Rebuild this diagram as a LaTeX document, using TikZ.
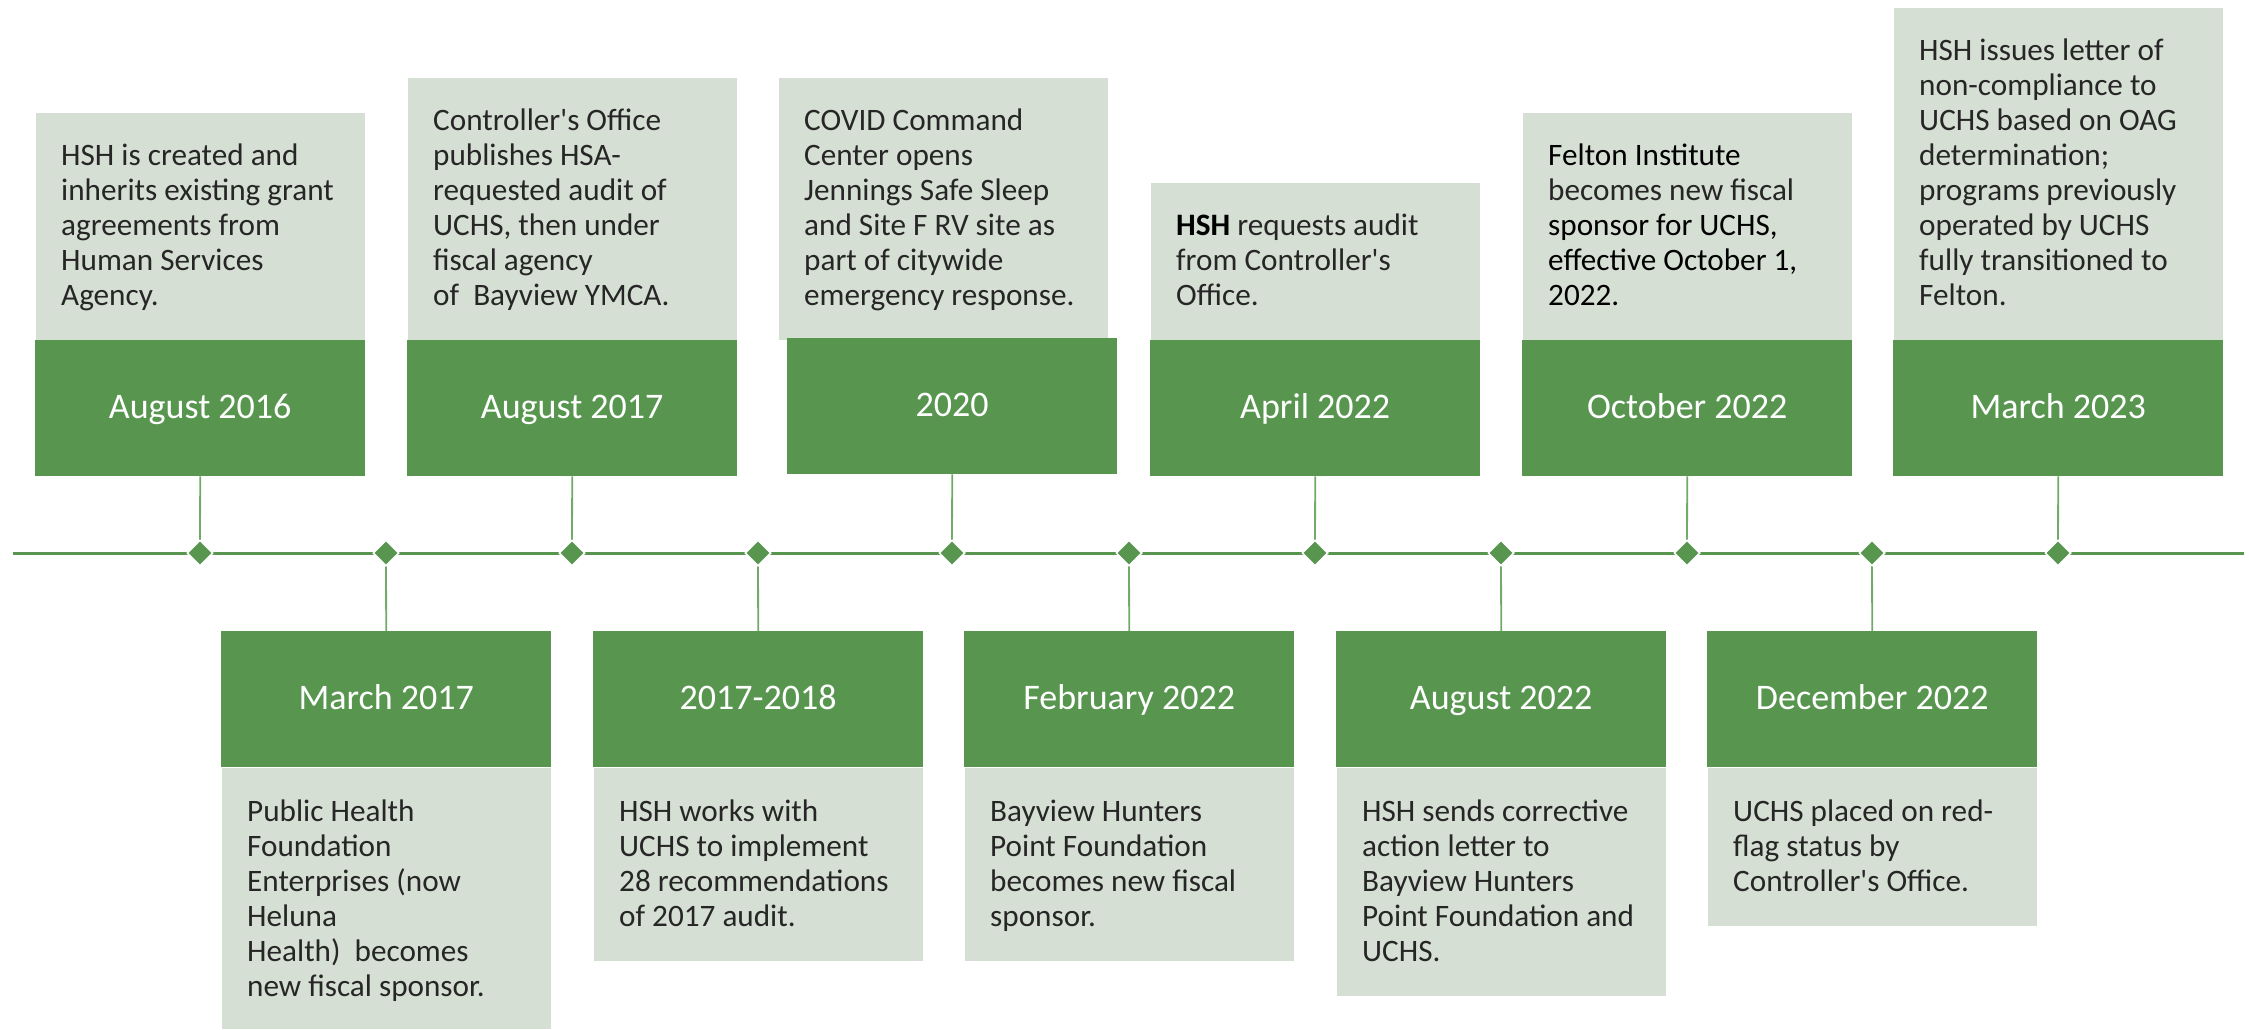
\documentclass[tikz,border=0pt]{standalone}
\usepackage{fontspec}
\setmainfont{Carlito}[Ligatures=TeXOff]
\usetikzlibrary{shapes.geometric}
\definecolor{tlgreen}{HTML}{589650}
\definecolor{tllight}{HTML}{D6DFD3}
\definecolor{tlconn}{HTML}{72AB69}
\definecolor{tltext}{HTML}{262626}
\begin{document}
\begin{tikzpicture}[x=1pt,y=-1pt,
  datebox/.style={rectangle, fill=tlgreen, draw=none, minimum width=330pt, minimum height=136pt,
    inner sep=0pt, text=white, font=\fontsize{36}{43}\selectfont, text height=25pt, text depth=5pt,
    anchor=north west},
  infobox/.style={rectangle, fill=tllight, draw=white, line width=0.8pt, minimum width=330pt,
    inner sep=0pt, anchor=north west},
  infotext/.style={anchor=north west, inner sep=0pt, align=left, text=tltext,
    font=\fontsize{31.2}{35}\selectfont},
  mainline/.style={draw=tlgreen, line width=3pt},
  conn/.style={draw=tlconn, line width=1.8pt},
  tick/.style={diamond, fill=tlgreen, draw=white, line width=1.5pt, inner sep=0pt,
    minimum width=26pt, minimum height=26pt}
]
\fill[white] (0,0) rectangle (2249,1029);
\useasboundingbox (0,0) rectangle (2249,1029);

% ---------- top row ----------
\node[infobox, minimum height=228pt] (b1) at (35,112) {};
\node[datebox] (g1) at (35,340) {August 2016};
\node[infotext] (t1) at (61,112) {\rule{0pt}{53pt}HSH is created and\\inherits existing grant\\agreements from\\Human Services\\Agency.};

\node[infobox, minimum height=263pt] (b3) at (407,77) {};
\node[datebox] (g3) at (407,340) {August 2017};
\node[infotext] (t3) at (433,77) {\rule{0pt}{53pt}Controller's Office\\publishes HSA-\\requested audit of\\UCHS, then under\\fiscal agency\\of\ \ Bayview YMCA.};

\node[infobox, minimum height=263pt] (b5) at (778,77) {};
\node[datebox] (g5) at (787,338) {2020};
\node[infotext] (t5) at (804,77) {\rule{0pt}{53pt}COVID Command\\Center opens\\Jennings Safe Sleep\\and Site F RV site as\\part of citywide\\emergency response.};

\node[infobox, minimum height=158pt] (b7) at (1150,182) {};
\node[datebox] (g7) at (1150,340) {April 2022};
\node[infotext] (t7) at (1176,182) {\rule{0pt}{53pt}\textcolor{black}{\textbf{HSH}} requests audit\\from Controller's\\Office.};

\node[infobox, minimum height=228pt] (b9) at (1522,112) {};
\node[datebox] (g9) at (1522,340) {October 2022};
\node[infotext] (t9) at (1548,112) {\rule{0pt}{53pt}\textcolor{black}{Felton Institute}\\becomes new fiscal\\\textcolor{black}{sponsor for UCHS,}\\\textcolor{black}{effective October 1,}\\\textcolor{black}{2022.}};

\node[infobox, minimum height=333pt] (b11) at (1893,7) {};
\node[datebox] (g11) at (1893,340) {March 2023};
\node[infotext] (t11) at (1919,7) {\rule{0pt}{53pt}HSH issues letter of\\non-compliance to\\UCHS based on OAG\\determination;\\programs previously\\operated by UCHS\\fully transitioned to\\Felton.};

% ---------- bottom row ----------
\node[infobox, minimum height=262pt] (b2) at (221,767) {};
\node[datebox] (g2) at (221,631) {March 2017};
\node[infotext] (t2) at (247,767) {\rule{0pt}{54pt}Public Health\\Foundation\\Enterprises (now\\Heluna\\Health)\ \ becomes\\new fiscal sponsor.};

\node[infobox, minimum height=194pt] (b4) at (593,767) {};
\node[datebox] (g4) at (593,631) {2017-2018};
\node[infotext] (t4) at (619,767) {\rule{0pt}{54pt}HSH works with\\UCHS to implement\\28 recommendations\\of 2017 audit.};

\node[infobox, minimum height=194pt] (b6) at (964,767) {};
\node[datebox] (g6) at (964,631) {February 2022};
\node[infotext] (t6) at (990,767) {\rule{0pt}{54pt}Bayview Hunters\\Point Foundation\\becomes new fiscal\\sponsor.};

\node[infobox, minimum height=229pt] (b8) at (1336,767) {};
\node[datebox] (g8) at (1336,631) {August 2022};
\node[infotext] (t8) at (1362,767) {\rule{0pt}{54pt}HSH sends corrective\\action letter to\\Bayview Hunters\\Point Foundation and\\UCHS.};

\node[infobox, minimum height=159pt] (b10) at (1707,767) {};
\node[datebox] (g10) at (1707,631) {December 2022};
\node[infotext] (t10) at (1733,767) {\rule{0pt}{54pt}UCHS placed on red-\\flag status by\\Controller's Office.};

% ---------- timeline ----------
\coordinate (ls) at (13,553);
\coordinate (le) at (2244,553);
\draw[mainline] (ls) -- (le);

\coordinate (d1) at (200,553);
\coordinate (d2) at (386,553);
\coordinate (d3) at (572,553);
\coordinate (d4) at (758,553);
\coordinate (d5) at (952,553);
\coordinate (d6) at (1129,553);
\coordinate (d7) at (1315,553);
\coordinate (d8) at (1501,553);
\coordinate (d9) at (1687,553);
\coordinate (d10) at (1872,553);
\coordinate (d11) at (2058,553);

\draw[conn] (g1.south) -- (d1);
\draw[conn] (g3.south) -- (d3);
\draw[conn] (g5.south) -- (d5);
\draw[conn] (g7.south) -- (d7);
\draw[conn] (g9.south) -- (d9);
\draw[conn] (g11.south) -- (d11);
\draw[conn] (d2) -- (g2.north);
\draw[conn] (d4) -- (g4.north);
\draw[conn] (d6) -- (g6.north);
\draw[conn] (d8) -- (g8.north);
\draw[conn] (d10) -- (g10.north);

\foreach \i in {1,...,11} {
  \node[tick] (k\i) at (d\i) {};
}
\end{tikzpicture}
\end{document}
